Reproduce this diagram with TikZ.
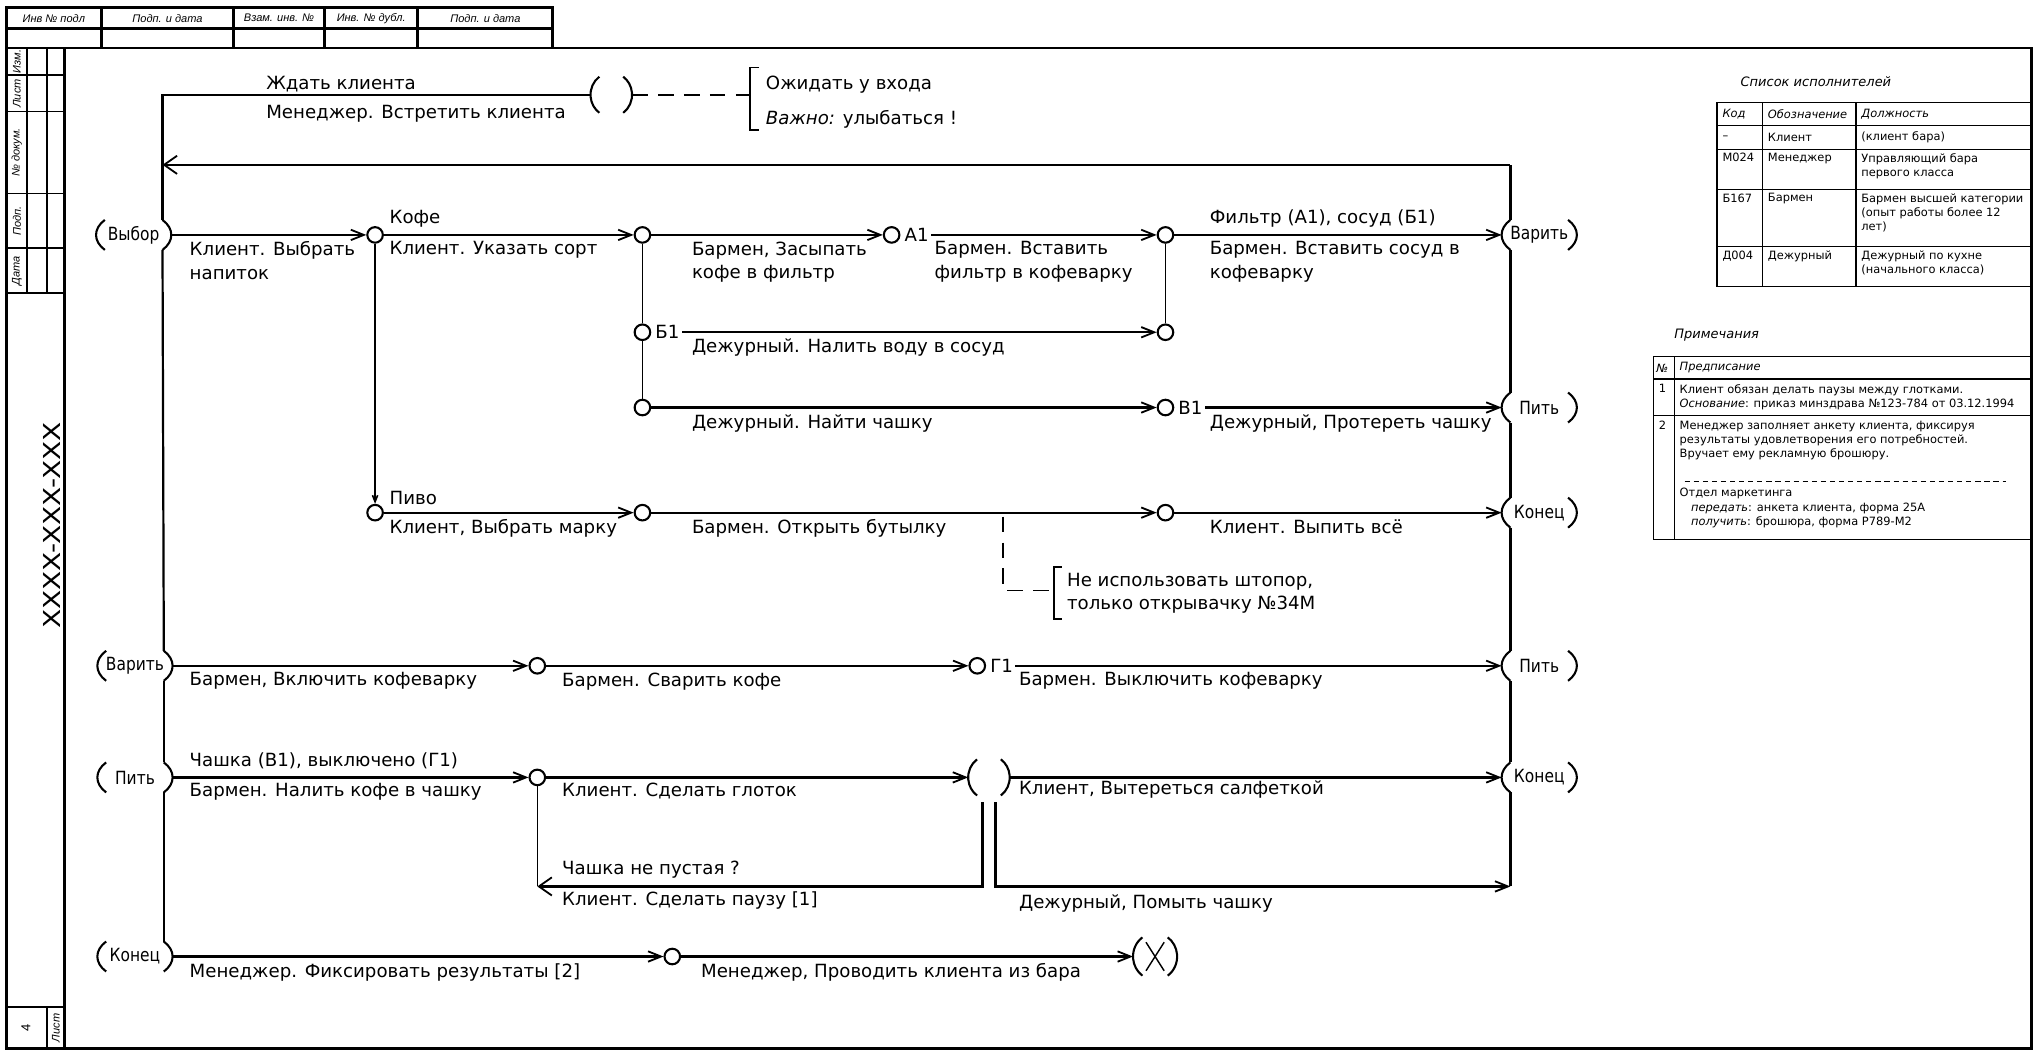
\documentclass[tikz,border=0pt]{standalone}
\usepackage{fontspec}
\setmainfont{DejaVu Sans}
\newfontfamily\hdrfont{Liberation Sans}
\usetikzlibrary{arrows.meta,calc}
\newcommand\mylbl{\fontsize{14}{18}\selectfont}
\newcommand\mytab{\fontsize{8.8}{11}\selectfont}
\newcommand\myhdr{\hdrfont\itshape\fontsize{8.5}{9}\selectfont}
\tikzset{
 ln/.style={line width=1.7pt},
 vln/.style={line width=1.2pt},
 arr/.style={ln,-{Straight Barb[length=10pt,width=8pt,line width=1.4pt]}},
 arrbig/.style={ln,-{Straight Barb[length=10pt,width=14pt,line width=1.4pt]}},
 arrsm/.style={vln,-{Straight Barb[length=5pt,width=4pt]}},
 dot/.style={circle,draw,line width=1.6pt,minimum size=12pt,inner sep=0pt},
 lb/.style={font=\mylbl,anchor=north west,inner sep=0pt,align=left},
 lba/.style={font=\mylbl,anchor=south west,inner sep=0pt,align=left},
 lbw/.style={font=\mylbl,anchor=west,inner sep=0pt,align=left},
 tag/.style={font=\mylbl,anchor=west,inner sep=0pt,outer sep=2pt},
 st/.style={font=\mylbl,inner sep=0pt},
 paren/.style={line width=1.6pt},
 frm/.style={line width=2.2pt},
 thin/.style={line width=1.3pt},
 tb/.style={font=\mytab,anchor=north west,inner sep=0pt,align=left},
 tbw/.style={font=\mytab,anchor=west,inner sep=0pt},
 tbi/.style={font=\mytab\itshape,anchor=west,inner sep=0pt},
 ttl/.style={font=\fontsize{10}{12}\selectfont\itshape,anchor=west,inner sep=0pt},
 hdr/.style={font=\myhdr,inner sep=0pt},
 tline/.style={line width=0.9pt},
 dsh/.style={line width=1.4pt,dash pattern=on 12pt off 8pt},
}
% name, x, y, rx, ry, half-angle, text
\newcommand\mystate[7]{%
 \node[st] (#1) at (#2,#3) {\scalebox{0.85}[1]{#7}};
 \draw[paren] ([shift={(180-#6:#4pt and #5pt)}]#1.center) arc[start angle=180-#6,end angle=180+#6,x radius=#4pt,y radius=#5pt];
 \draw[paren] ([shift={(-#6:#4pt and #5pt)}]#1.center) arc[start angle=-#6,end angle=#6,x radius=#4pt,y radius=#5pt];
 \coordinate (#1-e) at ([shift={(0:#4pt and #5pt)}]#1.center);
 \coordinate (#1-w) at ([shift={(180:#4pt and #5pt)}]#1.center);
 \coordinate (#1-ne) at ([shift={(#6:#4pt and #5pt)}]#1.center);
 \coordinate (#1-nw) at ([shift={(180-#6:#4pt and #5pt)}]#1.center);
 \coordinate (#1-se) at ([shift={(-#6:#4pt and #5pt)}]#1.center);
 \coordinate (#1-sw) at ([shift={(180+#6:#4pt and #5pt)}]#1.center);
}
\begin{document}
\begin{tikzpicture}[x=1pt,y=-1pt]
\useasboundingbox (0,0) rectangle (1568,812);
\fill[white] (0,0) rectangle (1568,812);

% ---------- frame ----------
\draw[frm] (50,37) -- (1565,37) -- (1565,808) -- (50,808);
\draw[frm] (5,37) rectangle (50,808);
\draw[frm] (5,6) rectangle (426,37);
\draw[frm] (5,22) -- (426,22);
\foreach \xx in {78,180,250,322} \draw[frm] (\xx,6) -- (\xx,37);
\node[hdr] (h1) at (41.5,14) {Инв № подл};
\node[hdr] (h2) at (129,14) {Подп. и дата};
\node[hdr] (h3) at (215,14) {Взам. инв. №};
\node[hdr] (h4) at (286,14) {Инв. № дубл.};
\node[hdr] (h5) at (374,14) {Подп. и дата};
\foreach \yy in {58,86,149,191,226,776} \draw[thin] (5,\yy) -- (50,\yy);
\draw[thin] (21,37) -- (21,226);
\draw[thin] (36,37) -- (36,226);
\draw[thin] (36,776) -- (36,808);
\node[hdr,rotate=90] (s1) at (13,47.5) {Изм.};
\node[hdr,rotate=90] (s2) at (13,72) {Лист};
\node[hdr,rotate=90] (s3) at (13,117.5) {№ докум.};
\node[hdr,rotate=90] (s4) at (13,170) {Подп.};
\node[hdr,rotate=90] (s5) at (13,208.5) {Дата};
\node[rotate=90,inner sep=0pt,font=\fontsize{18}{18}\selectfont] (code) at (40,405) {\scalebox{1.2}[1]{XXXX-XXX-XXX}};
\node[rotate=90,inner sep=0pt,font=\hdrfont\fontsize{10}{10}\selectfont] (pg) at (20,792) {4};
\node[hdr,rotate=90] (pgl) at (43,792) {Лист};

% ---------- state nodes ----------
\mystate{vybor}{103}{181}{29}{18}{40}{Выбор}
\mystate{varL}{104}{513}{29}{18}{40}{Варить}
\mystate{pitL}{104}{599}{29}{18}{40}{Пить}
\mystate{konL}{104}{737}{29}{18}{40}{Конец}
\mystate{varR}{1186}{181}{29}{18}{40}{Варить}
\mystate{pitR}{1186}{314}{29}{18}{40}{Пить}
\mystate{konR}{1186}{395}{29}{18}{40}{Конец}
\mystate{pitR2}{1186}{513}{29}{18}{40}{Пить}
\mystate{konR2}{1186}{599}{29}{18}{40}{Конец}
\mystate{waitc}{471}{73}{16}{17}{55}{}
\mystate{bigc}{762}{599}{16}{17}{55}{}
\mystate{xend}{890}{737}{17}{18}{55}{}
\draw[line width=1.1pt] ($(xend.center)+(-7,-11)$) -- ($(xend.center)+(7,11)$);
\draw[line width=1.1pt] ($(xend.center)+(7,-11)$) -- ($(xend.center)+(-7,11)$);

% ---------- small circles ----------
\node[dot] (c1) at (289,181) {};
\node[dot] (c2) at (495,181) {};
\node[dot] (a1) at (687,181) {};
\node[dot] (c3) at (898,181) {};
\node[dot] (b1) at (495,256) {};
\node[dot] (c4) at (898,256) {};
\node[dot] (c5) at (495,314) {};
\node[dot] (v1) at (898,314) {};
\node[dot] (pivo) at (289,395) {};
\node[dot] (c6) at (495,395) {};
\node[dot] (c7) at (898,395) {};
\node[dot] (c8) at (414,513) {};
\node[dot] (g1) at (753,513) {};
\node[dot] (c9) at (414,599) {};
\node[dot] (c10) at (518,737) {};

% ---------- left / right columns ----------
\coordinate (tl) at (vybor-ne |- waitc-w);
\draw[ln] (waitc-w) -- (tl) -- (vybor-ne);
\coordinate (tr) at (varR-nw |- 0,127);
\draw[ln] (varR-nw) -- (tr);
\draw[arrbig] (tr) -- (tr -| tl);
\draw[ln] (vybor-se) -- (varL-ne);
\draw[ln] (varL-se) -- (pitL-ne);
\draw[ln] (pitL-se) -- (konL-ne);
\draw[ln] (varR-sw) -- (pitR-nw);
\draw[ln] (pitR-sw) -- (konR-nw);
\draw[ln] (konR-sw) -- (pitR2-nw);
\draw[ln] (pitR2-sw) -- (konR2-nw);
\coordinate (wash) at (konR2-sw |- 0,683);
\draw[ln] (konR2-sw) -- (wash);

% ---------- top ----------
\coordinate (br1) at (578,73);
\draw[dsh] (waitc-e) -- (br1);
\draw[thin] (585,52) -- (578,52) -- (578,100) -- (585,100);
\node[lba] (t1) at (205,71) {Ждать клиента};
\node[lb] (t2) at (205,81) {Менеджер. Встретить клиента};
\node[lbw] (t3) at (590,65) {Ожидать у входа};
\node[lbw] (t4) at (590,92) {\textit{Важно:} улыбаться !};

% ---------- row Выбор ----------
\draw[arr] (vybor-e) -- (c1);
\draw[arr] (c1) -- (c2);
\draw[arr] (c2) -- (a1);
\draw[arrsm] (c1) -- (pivo);
\draw[vln] (c2) -- (b1);
\draw[vln] (b1) -- (c5);
\draw[vln] (c3) -- (c4);
\node[lb] (l1) at (146,186) {Клиент. Выбрать\\напиток};
\node[lba] (l2) at (300,175) {Кофе};
\node[lb] (l3) at (300,186) {Клиент. Указать сорт};
\node[lb] (l4) at (533,186) {Бармен, Засыпать\\кофе в фильтр};
\node[tag] (l5) at (695,181) {А1};
\draw[arr] (l5) -- (c3);
\draw[arr] (c3) -- (varR-w);
\node[lb] (l6) at (720,186) {Бармен. Вставить\\фильтр в кофеварку};
\node[lba] (l7) at (932,175) {Фильтр (А1), сосуд (Б1)};
\node[lb] (l8) at (932,186) {Бармен. Вставить сосуд в\\кофеварку};

% ---------- row Б1 ----------
\node[tag] (l9) at (503,256) {Б1};
\draw[arr] (l9) -- (c4);
\node[lb] (l10) at (533,261) {Дежурный. Налить воду в сосуд};

% ---------- row В1 ----------
\draw[arr] (c5) -- (v1);
\node[tag] (l12) at (906,314) {В1};
\draw[arr] (l12) -- (pitR-w);
\node[lb] (l11) at (533,319) {Дежурный. Найти чашку};
\node[lb] (l13) at (932,319) {Дежурный, Протереть чашку};

% ---------- row Пиво ----------
\draw[arr] (pivo) -- (c6);
\draw[arr] (c6) -- (c7);
\draw[arr] (c7) -- (konR-w);
\coordinate (dn) at (773,398);
\coordinate (br2) at (812,455);
\draw[dsh] (dn) |- (br2);
\draw[thin] (818,437) -- (812,437) -- (812,477) -- (818,477);
\node[lba] (l14) at (300,389) {Пиво};
\node[lb] (l15) at (300,400) {Клиент, Выбрать марку};
\node[lb] (l16) at (533,400) {Бармен. Открыть бутылку};
\node[lb] (l17) at (932,400) {Клиент. Выпить всё};
\node[lbw] (l18) at (822,457) {Не использовать штопор,\\только открывачку №34М};

% ---------- row Варить ----------
\draw[arr] (varL-e) -- (c8);
\draw[arr] (c8) -- (g1);
\node[tag] (l21) at (761,513) {Г1};
\draw[arr] (l21) -- (pitR2-w);
\node[lb] (l19) at (146,518) {Бармен, Включить кофеварку};
\node[lb] (l20) at (433,518) {Бармен. Сварить кофе};
\node[lb] (l22) at (785,518) {Бармен. Выключить кофеварку};

% ---------- row Пить ----------
\draw[arr] (pitL-e) -- (c9);
\draw[arr] (c9) -- (bigc-w);
\draw[arr] (bigc-e) -- (konR2-w);
\coordinate (bigc-bl) at ($(bigc.center)+(-5,19)$);
\coordinate (bigc-br) at ($(bigc.center)+(5,19)$);
\coordinate (loop) at (c9 |- 0,683);
\draw[arrbig] (bigc-bl) |- (loop);
\draw[vln] (c9) -- (loop);
\draw[arr] (bigc-br) |- (wash);
\node[lba] (l23) at (146,593) {Чашка (В1), выключено (Г1)};
\node[lb] (l24) at (146,603) {Бармен. Налить кофе в чашку};
\node[lb] (l25) at (433,603) {Клиент. Сделать глоток};
\node[lb] (l26) at (785,601) {Клиент, Вытереться салфеткой};
\node[lba] (l27) at (433,677) {Чашка не пустая ?};
\node[lb] (l28) at (433,687) {Клиент. Сделать паузу [1]};
\node[lb] (l29) at (785,689) {Дежурный, Помыть чашку};

% ---------- row Конец ----------
\draw[arr] (konL-e) -- (c10);
\draw[arr] (c10) -- (xend-w);
\node[lb] (l30) at (146,742) {Менеджер. Фиксировать результаты [2]};
\node[lb] (l31) at (540,742) {Менеджер, Проводить клиента из бара};

% ---------- table 1 ----------
\node[ttl] (tt1) at (1341,63) {Список исполнителей};
\draw[tline] (1323,79) rectangle (1565,221);
\foreach \yy in {97,115,146,190} \draw[tline] (1323,\yy) -- (1565,\yy);
\draw[tline] (1358,79) -- (1358,221);
\draw[tline] (1430,79) -- (1430,221);
\node[tbi] (k0) at (1327,88) {Код};
\node[tbi] (o0) at (1362,88) {Обозначение};
\node[tbi] (d0) at (1434,88) {Должность};
\node[tbw] (k1) at (1327,106) {–};
\node[tbw] (o1) at (1362,106) {Клиент};
\node[tbw] (d1) at (1434,106) {(клиент бара)};
\node[tb] (k2) at (1327,118) {М024};
\node[tb] (o2) at (1362,118) {Менеджер};
\node[tb] (d2) at (1434,118) {Управляющий бара\\первого класса};
\node[tb] (k3) at (1327,149) {Б167};
\node[tb] (o3) at (1362,149) {Бармен};
\node[tb] (d3) at (1434,149) {Бармен высшей категории\\(опыт работы более 12\\лет)};
\node[tb] (k4) at (1327,193) {Д004};
\node[tb] (o4) at (1362,193) {Дежурный};
\node[tb] (d4) at (1434,193) {Дежурный по кухне\\(начального класса)};

% ---------- table 2 ----------
\node[ttl] (tt2) at (1290,258) {Примечания};
\draw[tline] (1274,275) rectangle (1565,416);
\draw[tline] (1274,292) -- (1565,292);
\draw[tline] (1274,320) -- (1565,320);
\draw[tline] (1290,275) -- (1290,416);
\node[tbi] (n0) at (1276,283.5) {№};
\node[tbi] (p0) at (1294,283.5) {Предписание};
\node[tb] (n1) at (1278,296) {1};
\node[tb] (p1) at (1294,296) {Клиент обязан делать паузы между глотками.\\\textit{Основание}: приказ минздрава №123-784 от 03.12.1994};
\node[tb] (n2) at (1278,324) {2};
\node[tb] (p2) at (1294,324) {Менеджер заполняет анкету клиента, фиксируя\\результаты удовлетворения его потребностей.\\Вручает ему рекламную брошюру.};
\draw[line width=0.7pt,dash pattern=on 4pt off 3pt] (1298,371) -- (1546,371);
\node[tb] (p3) at (1294,376) {Отдел маркетинга\\\hspace*{1em}\textit{передать}: анкета клиента, форма 25А\\\hspace*{1em}\textit{получить}: брошюра, форма Р789-М2};
\end{tikzpicture}
\end{document}
